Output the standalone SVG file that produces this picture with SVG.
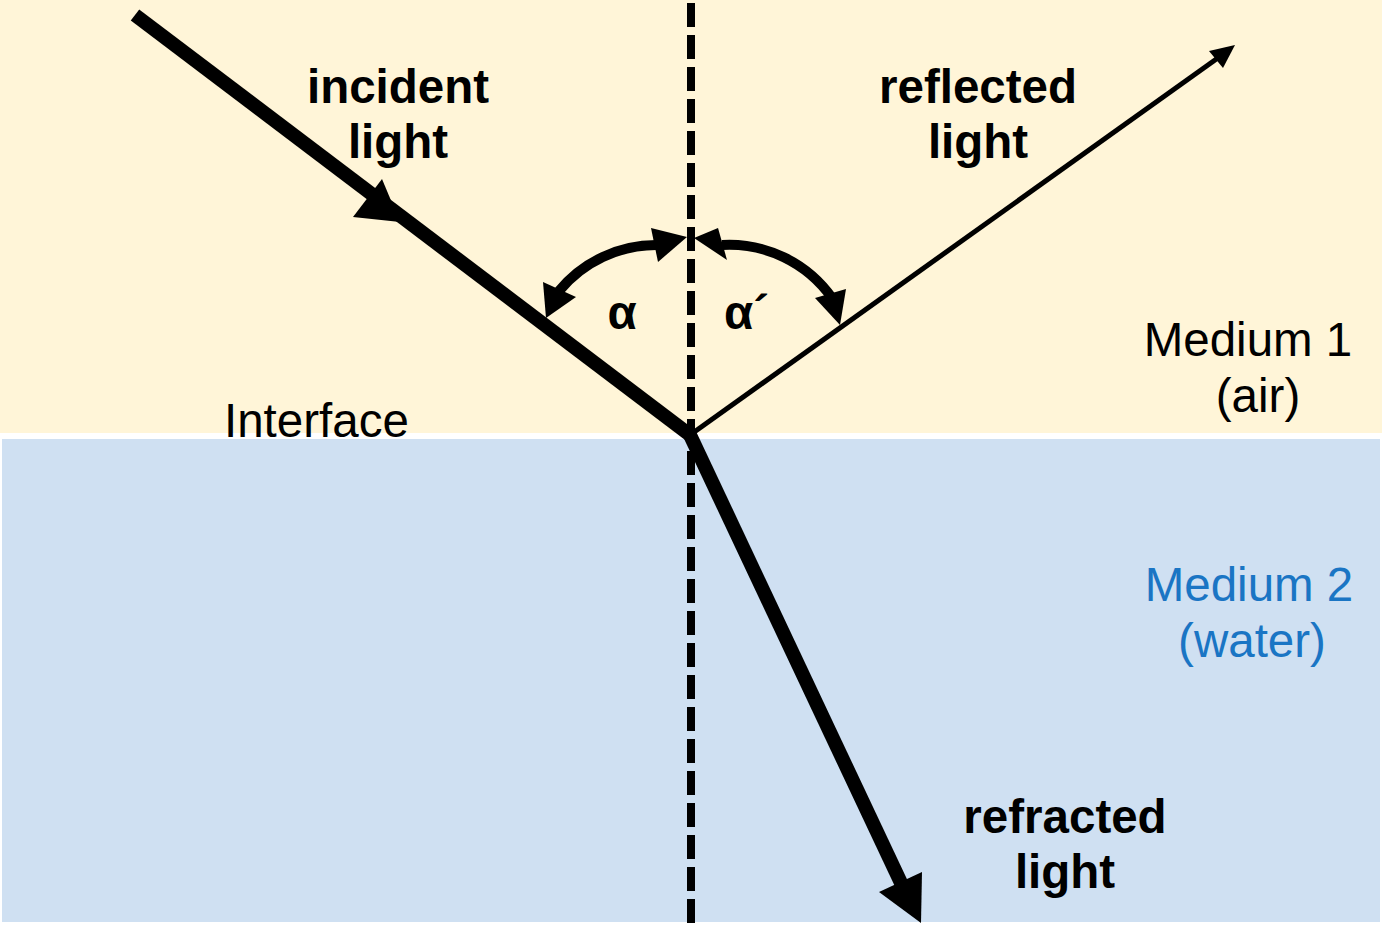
<svg xmlns="http://www.w3.org/2000/svg" width="1382" height="926" viewBox="0 0 1382 926">
  <style>
    .lbl { font-family: "Liberation Sans", Arial, sans-serif; font-size: 47.5px; fill: #000; }
    .bold { font-weight: bold; }
    .mid { text-anchor: middle; }
    .blue { fill: #1a75c4; }
    .ray { stroke: #000; fill: none; stroke-linecap: butt; }
    .head { fill: #000; stroke: none; }
  </style>

  <!-- media -->
  <g id="medium1">
    <rect x="0" y="0" width="1382" height="433" fill="#fff5d8"/>
  </g>
  <g id="medium2">
    <rect x="2" y="439" width="1378" height="483" fill="#cfe0f2"/>
  </g>

  <!-- normal to the interface -->
  <g id="normal">
    <line x1="691" y1="3" x2="691" y2="926" stroke="#000" stroke-width="8" stroke-dasharray="24 8"/>
  </g>

  <g id="connectors">
    <!-- incident ray -->
    <line class="ray" x1="135" y1="15" x2="690" y2="435" stroke-width="14"/>
    <polygon class="head" points="382,179 353,217 400,222"/>
    <!-- reflected ray -->
    <line class="ray" x1="690" y1="435" x2="1222" y2="55" stroke-width="5"/>
    <polygon class="head" points="1235,45 1209,51 1223,68"/>
    <!-- refracted ray -->
    <line class="ray" x1="690" y1="435" x2="902" y2="885" stroke-width="14"/>
    <polygon class="head" points="921,923 879,892 922,872"/>
    <!-- angle alpha -->
    <path class="ray" d="M559,291 A126,126 0 0 1 657,245" stroke-width="10"/>
    <polygon class="head" points="546,318 543,282 576,297"/>
    <polygon class="head" points="687,237 651,228 658,262"/>
    <!-- angle alpha prime -->
    <path class="ray" d="M722,245 A126,126 0 0 1 832,298" stroke-width="10"/>
    <polygon class="head" points="694,238 718,228 727,260"/>
    <polygon class="head" points="840,325 815,298 846,289"/>
  </g>

  <g id="labels">
    <text class="lbl bold mid" x="398" y="103">incident</text>
    <text class="lbl bold mid" x="398" y="158">light</text>
    <text class="lbl bold mid" x="978" y="103">reflected</text>
    <text class="lbl bold mid" x="978" y="158">light</text>
    <text class="lbl bold mid" x="1065" y="833">refracted</text>
    <text class="lbl bold mid" x="1065" y="888">light</text>
    <text class="lbl bold mid" x="622" y="329">α</text>
    <text class="lbl bold" x="724" y="329">α´</text>
    <text class="lbl" x="224" y="437">Interface</text>
    <text class="lbl mid" x="1248" y="356">Medium 1</text>
    <text class="lbl mid" x="1258" y="412">(air)</text>
    <text class="lbl mid blue" x="1249" y="601">Medium 2</text>
    <text class="lbl mid blue" x="1252" y="657">(water)</text>
  </g>
</svg>
